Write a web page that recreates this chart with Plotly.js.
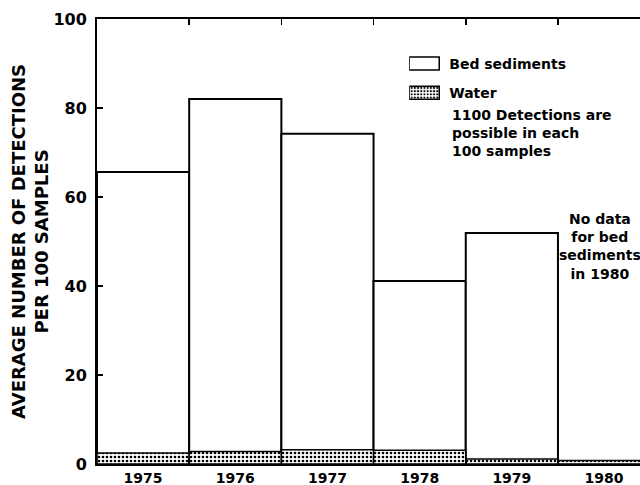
<!DOCTYPE html>
<html>
<head>
<meta charset="utf-8">
<script src="https://cdn.plot.ly/plotly-3.0.1.min.js"></script>
<style>html,body{margin:0;padding:0;background:#fff;}</style>
</head>
<body>
<div id="chart" style="width:640px;height:485px;"></div>
<script>
const years = ['1975', '1976', '1977', '1978', '1979', '1980'];
const bedSediments = [65.6, 82.0, 74.2, 41.1, 51.9, null];
const water = [2.5, 2.8, 3.2, 3.1, 1.1, 0.8];
const yTicks = [0, 20, 40, 60, 80, 100];

const FONT = 'DejaVu Sans, Arial, sans-serif';

const traces = [
  {
    type: 'bar', name: 'Bed sediments', x: years, y: bedSediments,
    marker: {color: '#ffffff', line: {color: '#000000', width: 2}},
    legendgroup: 'a', hoverinfo: 'x+y'
  },
  {
    type: 'bar', name: 'Water', x: years, y: water,
    marker: {
      color: '#ffffff',
      line: {color: '#000000', width: 1.5},
      pattern: {shape: '.', fgcolor: '#000000', bgcolor: '#ffffff', size: 4, solidity: 0.35}
    },
    legendgroup: 'b', hoverinfo: 'x+y'
  }
];

const layout = {
  width: 640, height: 485,
  margin: {l: 97, r: 0, t: 19, b: 21, pad: 0},
  paper_bgcolor: '#ffffff', plot_bgcolor: '#ffffff',
  barmode: 'overlay', bargap: 0,
  font: {family: FONT, color: '#000000', size: 14, weight: 'bold'},
  xaxis: {
    type: 'category', categoryorder: 'array', categoryarray: years,
    range: [-0.5, 5.39],
    showline: true, linecolor: '#000', linewidth: 2, mirror: 'ticks',
    ticks: 'inside', tickson: 'boundaries', ticklen: 6, tickwidth: 1.5, tickcolor: '#000',
    showgrid: false, zeroline: false,
    tickfont: {family: FONT, size: 14, weight: 'bold', color: '#000'}
  },
  yaxis: {
    range: [0, 100], tickvals: yTicks,
    showline: true, linecolor: '#000', linewidth: 2, mirror: false,
    ticks: 'inside', ticklen: 6, tickwidth: 1.5, tickcolor: '#000',
    showgrid: false, zeroline: false,
    ticklabelstandoff: 5,
    tickfont: {family: FONT, size: 16, weight: 'bold', color: '#000'},
    title: {
      text: 'AVERAGE NUMBER OF DETECTIONS<br>PER 100 SAMPLES',
      font: {family: FONT, size: 18, weight: 'bold', color: '#000'},
      standoff: 0
    }
  },
  showlegend: true,
  legend: {
    x: 0.575, y: 0.935, xanchor: 'left', yanchor: 'top',
    bgcolor: 'rgba(0,0,0,0)', borderwidth: 0,
    tracegroupgap: 8, traceorder: 'grouped',
    font: {family: FONT, size: 14, weight: 'bold', color: '#000'}
  },
  annotations: [
    {
      xref: 'paper', yref: 'paper', x: 0.65, y: 0.807, xanchor: 'left', yanchor: 'top',
      align: 'left', showarrow: false,
      text: '1100 Detections are<br>possible in each<br>100 samples',
      font: {family: FONT, size: 14, weight: 'bold', color: '#000'}
    },
    {
      xref: 'paper', yref: 'paper', x: 0.926, y: 0.572, xanchor: 'center', yanchor: 'top',
      align: 'center', showarrow: false,
      text: 'No data<br>for bed<br>sediments<br>in 1980',
      font: {family: FONT, size: 14, weight: 'bold', color: '#000'}
    }
  ]
};

Plotly.newPlot('chart', traces, layout, {displayModeBar: false, staticPlot: true}).then(function (gd) {
  // widen the legend swatches into rectangles like the reference key
  gd.querySelectorAll('.legend .legendpoints path').forEach(function (p) {
    p.setAttribute('d', 'M-20,6.5H10V-6.5H-20Z');
    p.style.strokeWidth = '1.5px';
  });
});
</script>
</body>
</html>
